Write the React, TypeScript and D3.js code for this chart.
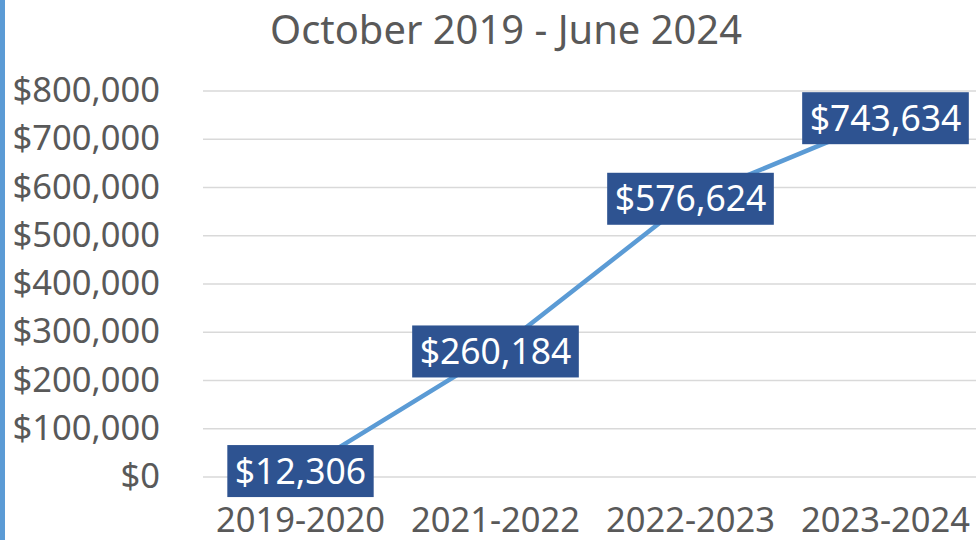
import React, { useEffect, useRef } from "react";
import * as d3 from "d3";

const categories = ["2019-2020", "2021-2022", "2022-2023", "2023-2024"];
const values = [12306, 260184, 576624, 743634];
const yTicks = [0, 100000, 200000, 300000, 400000, 500000, 600000, 700000, 800000];
const title = "October 2019 - June 2024";

const W = 976;
const H = 540;
const FONT = "'Noto Sans', 'Open Sans', sans-serif";
const TEXT = "#595959";

export default function App() {
  const ref = useRef<SVGSVGElement | null>(null);

  useEffect(() => {
    const svg = d3.select(ref.current);
    svg.selectAll("*").remove();

    const x = d3.scaleBand<string>().domain(categories).range([203, 983]);
    const cx = (c: string) => (x(c) as number) + x.bandwidth() / 2;
    const y = d3.scaleLinear().domain([0, 800000]).range([477, 91]);
    const fmt = (v: number) => "$" + d3.format(",")(v);

    svg.append("rect").attr("x", 0).attr("y", 0).attr("width", W).attr("height", H).attr("fill", "#fff");
    svg.append("rect").attr("x", 0).attr("y", 0).attr("width", 5).attr("height", H).attr("fill", "#5b9bd5");

    // title
    svg.append("text")
      .attr("x", 506).attr("y", 44)
      .attr("text-anchor", "middle")
      .attr("font-family", FONT).attr("font-size", 40)
      .attr("fill", TEXT)
      .attr("textLength", 472).attr("lengthAdjust", "spacingAndGlyphs")
      .text(title);

    // grid
    svg.append("g").selectAll("line").data(yTicks).join("line")
      .attr("x1", 203).attr("x2", W)
      .attr("y1", (d) => y(d)).attr("y2", (d) => y(d))
      .attr("stroke", "#d9d9d9").attr("stroke-width", 1.5);

    // y tick labels
    svg.append("g").selectAll("text").data(yTicks).join("text")
      .attr("x", 160).attr("y", (d) => y(d) + 11)
      .attr("text-anchor", "end")
      .attr("font-family", FONT).attr("font-size", 34.5)
      .attr("fill", TEXT)
      .text((d) => fmt(d));

    // x labels
    svg.append("g").selectAll("text").data(categories).join("text")
      .attr("x", (d) => cx(d)).attr("y", 532)
      .attr("text-anchor", "middle")
      .attr("font-family", FONT).attr("font-size", 34.5)
      .attr("fill", TEXT)
      .text((d) => d);

    // line
    const pts = categories.map((c, i) => [cx(c), y(values[i])] as [number, number]);
    svg.append("path")
      .attr("d", d3.line()(pts) as string)
      .attr("fill", "none").attr("stroke", "#5b9bd5").attr("stroke-width", 4.5)
      .attr("stroke-linecap", "round");

    // data labels
    const lg = svg.append("g");
    pts.forEach((p, i) => {
      const g = lg.append("g");
      const rect = g.append("rect").attr("fill", "#2e5391");
      const t = g.append("text")
        .attr("x", p[0]).attr("y", p[1] + 12.5)
        .attr("text-anchor", "middle")
        .attr("font-family", FONT).attr("font-size", 35.5)
        .attr("fill", "#fff")
        .text(fmt(values[i]));
      const w = (t.node() as SVGTextElement).getComputedTextLength();
      rect.attr("x", p[0] - w / 2 - 7.5).attr("y", p[1] - 26)
        .attr("width", w + 15).attr("height", 52);
    });
  }, []);

  return (
    <svg ref={ref} width={W} height={H} style={{ position: "absolute", left: 0, top: 0, display: "block" }} />
  );
}
